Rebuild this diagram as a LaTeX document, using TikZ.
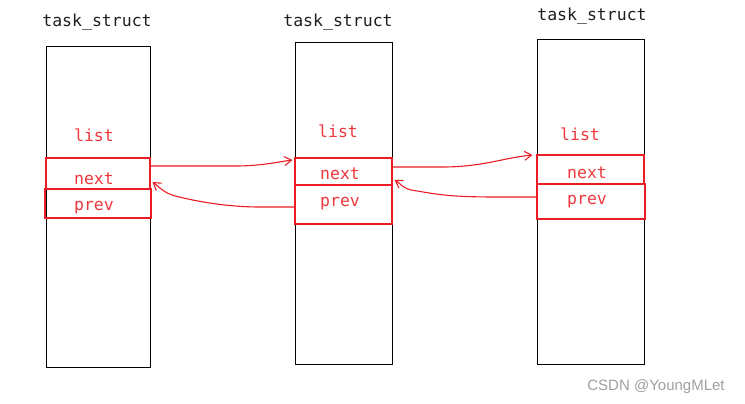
\documentclass[tikz,border=0pt]{standalone}
\usepackage{fontspec}
\setmonofont{DejaVu Sans Mono}
\setsansfont{Liberation Sans}
\usetikzlibrary{arrows.meta}
\definecolor{lred}{RGB}{236,28,36}
\definecolor{tred}{RGB}{238,55,60}
\definecolor{tblack}{RGB}{30,30,30}
\begin{document}
\begin{tikzpicture}[x=1pt,y=-1pt,
  box/.style={draw=black,line width=1pt,inner sep=0pt,minimum width=#1},
  cell/.style={draw=lred,line width=1.1pt,inner sep=0pt},
  thickcell/.style={draw=lred,line width=1.9pt,inner sep=0pt},
  title/.style={font=\ttfamily\fontsize{16.5}{18}\selectfont,text=tblack,inner sep=0pt},
  lbl/.style={font=\ttfamily\fontsize{16.5}{18}\selectfont,text=tred,inner sep=0pt},
  link/.style={draw=lred,line width=1.1pt,-{Straight Barb[length=7pt,width=9pt]}}]
\useasboundingbox (0,0) rectangle (745,404);
% boxes
\node[box=104pt,minimum height=320pt] (b1) at (98,207) {};
\node[box=97pt,minimum height=321pt] (b2) at (343.5,203.5) {};
\node[box=107pt,minimum height=324pt] (b3) at (590.5,202) {};
% titles
\node[title] (t1) at (97,22) {task\_struct};
\node[title] (t2) at (338,22) {task\_struct};
\node[title] (t3) at (592,16) {task\_struct};
% cells
\node[cell,minimum width=104pt,minimum height=31pt] (n1) at (98,173.5) {};
\node[thickcell,minimum width=106pt,minimum height=29pt] (p1) at (98,203.5) {};
\node[cell,minimum width=97pt,minimum height=27pt] (n2) at (343.5,171.5) {};
\node[cell,minimum width=97pt,minimum height=39pt] (p2) at (343.5,204.5) {};
\node[cell,minimum width=107pt,minimum height=29pt] (n3) at (590.5,169.5) {};
\node[thickcell,minimum width=108pt,minimum height=35pt] (p3) at (591,201.5) {};
% labels
\node[lbl] (l1) at (94,135) {list};
\node[lbl] (x1) at (94,179) {next};
\node[lbl] (y1) at (94,208) {prev};
\node[lbl] (l2) at (338,131) {list};
\node[lbl] (x2) at (340,174) {next};
\node[lbl] (y2) at (340,204) {prev};
\node[lbl] (l3) at (580,134) {list};
\node[lbl] (x3) at (587,173) {next};
\node[lbl] (y3) at (587,202) {prev};
% links
\draw[link] ([yshift=7.5pt]n1.east) -- ++(85,0) .. controls +(25,0) and +(-15,2) .. ([xshift=-2pt,yshift=11.5pt]n2.west);
\draw[link] ([yshift=-2.5pt]p2.west) -- ++(-35,0) .. controls +(-30,0) and +(20,5) .. ++(-80,-10) .. controls +(-15,-3) and +(8,6) .. ([xshift=2pt,yshift=-8.5pt]n1.east);
\draw[link] ([yshift=4.5pt]n2.east) -- ++(50,0) .. controls +(40,0) and +(-30,3) .. ([xshift=-4pt,yshift=14.5pt]n3.west);
\draw[link] ([yshift=4.5pt]p3.west) -- ++(-40,0) .. controls +(-50,0) and +(25,4) .. ++(-85,-7) .. controls +(-10,-3) and +(8,5) .. ([xshift=2pt,yshift=-8.5pt]n2.east);
% watermark
\node[font=\sffamily\fontsize{15}{17}\selectfont,text=gray!75,inner sep=0pt] (wm) at (656,387) {CSDN @YoungMLet};
\end{tikzpicture}
\end{document}
